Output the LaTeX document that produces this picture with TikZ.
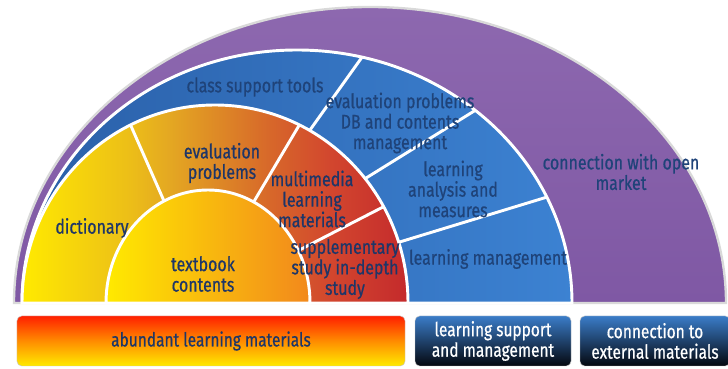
\documentclass[tikz,border=0pt]{standalone}
\usepackage{fontspec}
\setmainfont{Fira Sans}[FakeStretch=0.8,FakeBold=0.6]
\definecolor{navytxt}{HTML}{1E3668}
\definecolor{bluetxt}{HTML}{1F4379}
\definecolor{purpA}{HTML}{8D68AF}
\definecolor{purpB}{HTML}{7F58A4}
\definecolor{blueA}{HTML}{2A5FA8}
\definecolor{blueB}{HTML}{3C82D2}
\definecolor{ylwA}{HTML}{FFEA00}
\definecolor{orgA}{HTML}{F2881C}
\definecolor{boxtop}{HTML}{3A7CC8}
\definecolor{boxmid}{HTML}{1A3A6E}
\definecolor{darkbox}{HTML}{04070E}
\pgfdeclarehorizontalshading{ringshade}{100bp}{color(0bp)=(ylwA); color(25bp)=(ylwA);
  color(39bp)=(rgb,255:red,236;green,190;blue,24); color(44bp)=(rgb,255:red,228;green,168;blue,34);
  color(57bp)=(rgb,255:red,215;green,104;blue,42); color(65bp)=(rgb,255:red,210;green,70;blue,46);
  color(75bp)=(rgb,255:red,196;green,42;blue,44); color(100bp)=(rgb,255:red,196;green,42;blue,44)}

\begin{document}
\begin{tikzpicture}[x=0.03cm,y=0.03cm]
\tikzstyle{lbl}=[align=center,text=navytxt,font=\fontsize{17}{17.5}\selectfont]
\tikzstyle{gap}=[draw=white,line width=2.5pt]
\tikzstyle{matbox}=[draw=gray!45,rounded corners=4pt,minimum height=1.5cm,align=center,font=\fontsize{16.5}{17.5}\selectfont]
\useasboundingbox (0,0) rectangle (728,369);
\fill[white] (0,0) rectangle (728,369);
\draw[draw=gray!30,line width=2pt,top color=purpA,bottom color=purpB] (14,66) arc[start angle=180,end angle=0,x radius=356,y radius=296] -- cycle;
\draw[gap,left color=blueA,right color=blueB] (22,66) arc[start angle=180,end angle=0,x radius=275,y radius=253] -- cycle;
\begin{scope}
\clip (22,66) arc[start angle=180,end angle=0,x radius=275,y radius=253] -- cycle;
\draw[gap] (300,225) -- (380,337);
\draw[gap] (350,181) -- (500,274);
\draw[gap] (380,121) -- (580,182);
\end{scope}
\draw[gap,shading=ringshade] (22,66) arc[start angle=180,end angle=0,x radius=193,y radius=198] -- cycle;
\begin{scope}
\clip (22,66) arc[start angle=180,end angle=0,x radius=193,y radius=198] -- cycle;
\draw[gap] (175,143) -- (120,268);
\draw[gap] (240,144) -- (310,262);
\draw[gap] (280,109) -- (420,181);
\end{scope}
\draw[gap,left color=ylwA,right color=orgA] (106,66) arc[start angle=180,end angle=0,x radius=102,y radius=113] -- cycle;
\node (class) [lbl,text=bluetxt] at (255,282) {class support tools};
\node (evaldb) [lbl,text=bluetxt] at (400,246) {evaluation problems\\DB and contents\\management};
\node (analysis) [lbl,text=bluetxt] at (453,180) {learning\\analysis and\\measures};
\node (mgmt) [lbl,text=bluetxt] at (488,110) {learning management};
\node (market) [lbl,text=bluetxt] at (621,197) {connection with open\\market};
\node (dict) [lbl] at (92,141) {dictionary};
\node (evalprob) [lbl] at (222,206) {evaluation\\problems};
\node (multi) [lbl] at (312,170) {multimedia\\learning\\materials};
\node (supp) [lbl] at (345,100) {supplementary\\study in-depth\\study};
\node (textbook) [lbl] at (203,95) {textbook\\contents};
\node (rich) [matbox,minimum width=11.64cm,top color=red!75!orange,bottom color=ylwA,middle color=orange!90!yellow,text=navytxt] at (211,28) {abundant learning materials};
\node (support) [matbox,minimum width=4.68cm,top color=boxtop,middle color=boxmid,bottom color=darkbox,text=white] at (493,28) {learning support\\and management};
\node (external) [matbox,minimum width=4.5cm,top color=boxtop,middle color=boxmid,bottom color=darkbox,text=white] at (655,28) {connection to\\external materials};
\end{tikzpicture}
\end{document}
